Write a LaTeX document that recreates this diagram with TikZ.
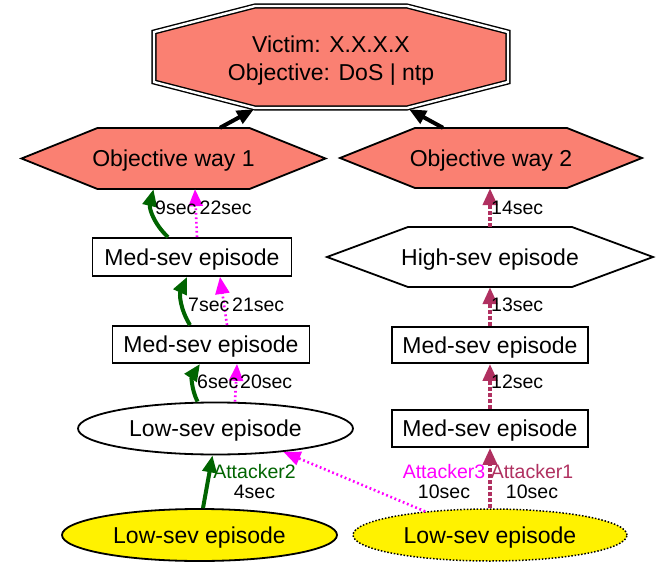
\documentclass[tikz,border=0pt]{standalone}
\usepackage{fontspec}
\setmainfont{Liberation Sans}
\usetikzlibrary{arrows.meta,shapes.geometric,calc}

\definecolor{salmon}{HTML}{FA8072}
\definecolor{atkgreen}{HTML}{006400}
\definecolor{atkmagenta}{HTML}{FF00FF}
\definecolor{atkmaroon}{HTML}{B03060}

\pgfdeclarelayer{background}
\pgfsetlayers{background,main}

\tikzset{
  nodefont/.style={font=\fontsize{23}{27.5}\selectfont},
  edgefont/.style={font=\fontsize{19.5}{20}\selectfont},
  shapeline/.style={draw=black, line width=1.8pt},
  holder/.style={nodefont, inner sep=0pt, text height=16.5pt, text depth=0pt},
  episode box/.style={holder, shapeline, rectangle, fill=white},
  episode oval/.style={holder, shapeline, ellipse, fill=white},
  dotted border/.style={line width=1.5pt, dash pattern=on 1.5pt off 1.8pt},
  victimline/.style={draw=black, line width=1.4pt, double=white, double distance=2.4pt, fill=salmon},
  arrowtip/.style={-{Triangle[length=17pt 0 0,width=14pt 0 0]}},
  victimedge/.style={arrowtip, black, line width=4pt},
  greenedge/.style={arrowtip, atkgreen, line width=4pt},
  magentaedge/.style={arrowtip, atkmagenta, line width=2.6pt, dash pattern=on 1.8pt off 2.7pt},
  maroonedge/.style={arrowtip, atkmaroon, line width=4pt, dash pattern=on 4pt off 2pt},
  timing/.style={edgefont, inner sep=0pt, anchor=west},
  attacker/.style={edgefont, inner sep=0pt, align=center},
}

% elongated hexagon: centre x, centre y, half width, half height, inset, fill
\newcommand{\hexoutline}[6]{%
  \begin{pgfonlayer}{background}
    \draw[shapeline, fill=#6] ({#1-#3},#2) -- ({#1-#3+#5},{#2-#4}) -- ({#1+#3-#5},{#2-#4})
      -- ({#1+#3},#2) -- ({#1+#3-#5},{#2+#4}) -- ({#1-#3+#5},{#2+#4}) -- cycle;
  \end{pgfonlayer}}

\begin{document}
\begin{tikzpicture}[x=1pt,y=-1pt]
\begin{pgfonlayer}{background}
  \fill[white] (0,0) rectangle (662,562);
\end{pgfonlayer}
\useasboundingbox (0,0) rectangle (662,562);

% target of the attack
\node[inner sep=0pt, minimum width=356pt, minimum height=104pt] (victim) at (331,57) {};
\begin{pgfonlayer}{background}
  \draw[victimline] (255,6) -- (407,6) -- (508,32) -- (508,82) -- (407,108) -- (255,108) -- (154,82) -- (154,32) -- cycle;
\end{pgfonlayer}
\node[nodefont, align=center, inner sep=0pt] (victimtext) at ([yshift=-3.7pt]victim.center) {Victim: X.X.X.X\\Objective: DoS | ntp};

% objective ways
\hexoutline{173.5}{158.5}{152}{30.5}{76}{salmon}
\node[holder, minimum width=304pt, minimum height=61pt] (obj1) at (173.5,158.5) {Objective way 1};
\hexoutline{491}{158}{151}{30}{75}{salmon}
\node[holder, minimum width=302pt, minimum height=60pt] (obj2) at (491,158) {Objective way 2};

% episodes
\hexoutline{490}{257}{163}{30}{81}{white}
\node[holder, minimum width=326pt, minimum height=60pt] (high) at (490,257) {High-sev episode};
\node[episode box, minimum width=199pt, minimum height=38pt] (medL1) at (192,257) {Med-sev episode};
\node[episode box, minimum width=197pt, minimum height=37pt] (medL2) at (211,344.5) {Med-sev episode};
\node[episode box, minimum width=196pt, minimum height=36pt] (medR1) at (490,345) {Med-sev episode};
\node[episode box, minimum width=196pt, minimum height=37pt] (medR2) at (490,428.5) {Med-sev episode};
\node[episode oval, minimum width=275pt, minimum height=52pt] (lowL) at (215.5,428.5) {Low-sev episode};
\node[episode oval, fill=yellow, minimum width=275pt, minimum height=52pt] (lowY) at (199.5,535) {Low-sev episode};
\node[episode oval, dotted border, fill=yellow, minimum width=274pt, minimum height=52pt] (lowYR) at (490,535) {Low-sev episode};

% objective ways lead to the target
\draw[victimedge] ([xshift=46.5pt]obj1.north) -- ([xshift=-77pt]victim.south);
\draw[victimedge] ([xshift=-48pt]obj2.north) -- ([xshift=78pt]victim.south);

% Attacker2
\draw[greenedge] ([xshift=3.5pt]lowY.north) -- ([xshift=-3pt]lowL.south);
\draw[greenedge] ([xshift=-18pt]lowL.north) to[bend left=30] ([xshift=-11pt]medL2.south);
\draw[greenedge] ([xshift=-21pt]medL2.north) to[bend left=28] ([xshift=-5pt]medL1.south);
\draw[greenedge] ([xshift=-24pt]medL1.north) to[bend left=30] ([xshift=-20pt]obj1.south);

% Attacker3
\draw[magentaedge] (lowYR.160) -- (lowL.-19);
\draw[magentaedge] ([xshift=19.5pt]lowL.north) -- ([xshift=26pt]medL2.south);
\draw[magentaedge] ([xshift=16pt]medL2.north) -- ([xshift=28pt]medL1.south);
\draw[magentaedge] ([xshift=5pt]medL1.north) -- ([xshift=21.5pt]obj1.south);

% Attacker1
\draw[maroonedge] (lowYR.north) -- (medR2.south);
\draw[maroonedge] (medR2.north) -- (medR1.south);
\draw[maroonedge] (medR1.north) -- (high.south);
\draw[maroonedge] (high.north) -- (high.north |- obj2.south);

% timings
\node[timing] (t9) at (155,208) {9sec};
\node[timing] (t22) at (199.5,208) {22sec};
\node[timing] (t7) at (188,305) {7sec};
\node[timing] (t21) at (232,305) {21sec};
\node[timing] (t6) at (197,382) {6sec};
\node[timing] (t20) at (240,382) {20sec};
\node[timing] (t14) at (491,208) {14sec};
\node[timing] (t13) at (491,305) {13sec};
\node[timing] (t12) at (491,382) {12sec};
\node[attacker] (a2) at (254.5,482) {\textcolor{atkgreen}{Attacker2}\\4sec};
\node[attacker] (a3) at (444,482) {\textcolor{atkmagenta}{Attacker3}\\10sec};
\node[attacker] (a1) at (532,482) {\textcolor{atkmaroon}{Attacker1}\\10sec};
\end{tikzpicture}
\end{document}
